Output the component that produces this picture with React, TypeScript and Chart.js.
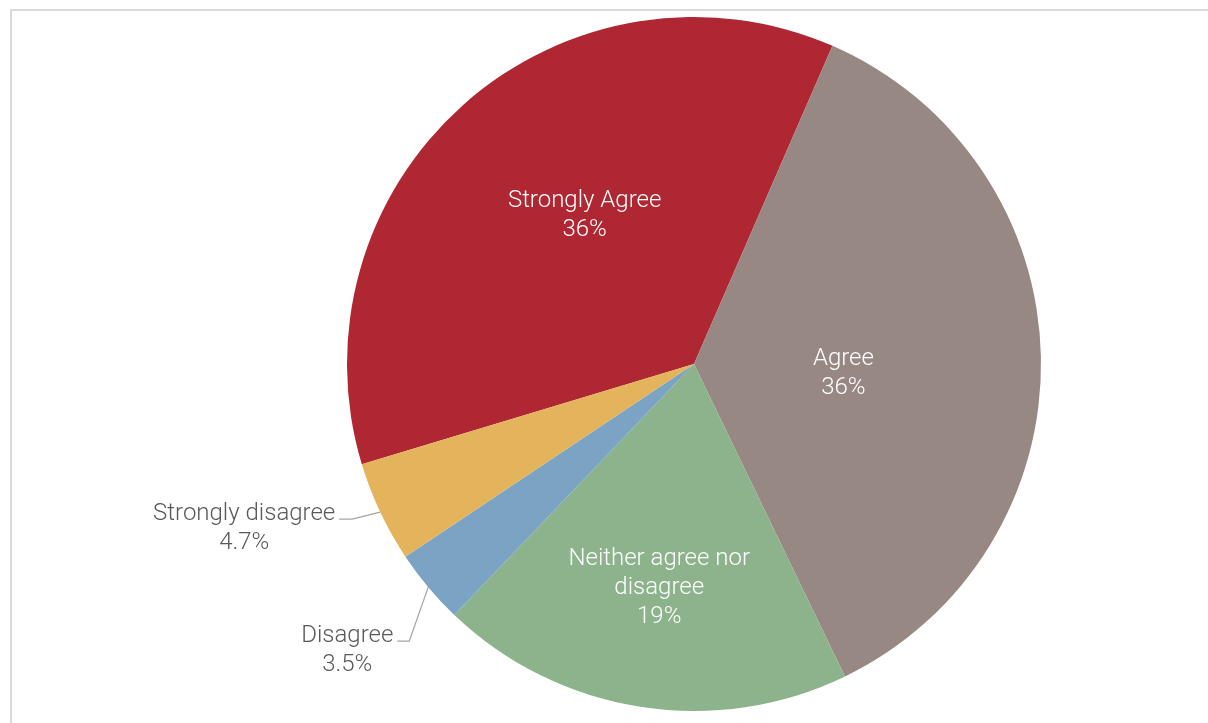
import React, { useEffect, useRef } from "react";
import { Chart, registerables } from "chart.js";

Chart.register(...registerables);

const categories = ["Strongly Agree", "Agree", "Neither agree nor disagree", "Disagree", "Strongly disagree"];
const values = [36.2, 36.3, 19.3, 3.5, 4.7];
const colors = ["#AF2732", "#978883", "#8CB38B", "#7BA3C4", "#E4B45C"];

// label placement styles (inside: polar offset from slice middle; outside: offsets from arc edge point)
const labelStyles: any[] = [
  { inside: true, dAngle: 5.7, rFrac: 0.537 },
  { inside: true, dAngle: 3.9, rFrac: 0.431 },
  { inside: true, dAngle: 0, rFrac: 0.645 },
  { inside: false, textDx: -81, textDy: 46, elbowDx: -19, elbowDy: 54, startDx: -31 },
  { inside: false, textDx: -136, textDy: -1, elbowDx: -28, elbowDy: 7, startDx: -41 },
];

const FONT = '300 24px Roboto, "Open Sans", sans-serif';
const LINE_H = 29;
const TEXT_SHIFT = 2.5;

function wrap(ctx: CanvasRenderingContext2D, text: string, maxW: number): string[] {
  const words = text.split(" ");
  const lines: string[] = [];
  let cur = "";
  for (const w of words) {
    const t = cur ? cur + " " + w : w;
    if (ctx.measureText(t).width > maxW && cur) {
      lines.push(cur);
      cur = w;
    } else cur = t;
  }
  if (cur) lines.push(cur);
  return lines;
}

const labelPlugin = {
  id: "pieLabels",
  afterDatasetsDraw(chart: any) {
    const ctx: CanvasRenderingContext2D = chart.ctx;
    const meta = chart.getDatasetMeta(0);
    const total = values.reduce((a, b) => a + b, 0);
    ctx.save();
    ctx.font = FONT;
    ctx.textAlign = "center";
    ctx.textBaseline = "middle";
    meta.data.forEach((arc: any, i: number) => {
      const st = labelStyles[i];
      const pct = ((values[i] / total) * 100).toPrecision(2) + "%";
      const mid = (arc.startAngle + arc.endAngle) / 2;
      const R = arc.outerRadius;
      if (st.inside) {
        const a = mid + (st.dAngle * Math.PI) / 180;
        const cx = arc.x + Math.cos(a) * R * st.rFrac;
        const cy = arc.y + Math.sin(a) * R * st.rFrac + TEXT_SHIFT;
        const lines = [...wrap(ctx, categories[i], 220), pct];
        const y0 = cy - ((lines.length - 1) * LINE_H) / 2;
        ctx.fillStyle = "#FFFFFF";
        lines.forEach((l, k) => ctx.fillText(l, cx, y0 + k * LINE_H));
      } else {
        const px = arc.x + Math.cos(mid) * R;
        const py = arc.y + Math.sin(mid) * R;
        ctx.strokeStyle = "#A6A6A6";
        ctx.lineWidth = 1.3;
        ctx.beginPath();
        ctx.moveTo(px + st.startDx, py + st.elbowDy);
        ctx.lineTo(px + st.elbowDx, py + st.elbowDy);
        ctx.lineTo(px, py);
        ctx.stroke();
        ctx.fillStyle = "#595959";
        const cx = px + st.textDx;
        const cy = py + st.textDy + TEXT_SHIFT;
        ctx.fillText(categories[i], cx, cy);
        ctx.fillText(pct, cx, cy + LINE_H);
      }
    });
    ctx.restore();
  },
};

export default function App() {
  const ref = useRef<HTMLCanvasElement>(null);
  useEffect(() => {
    if (!ref.current) return;
    const chart = new Chart(ref.current, {
      type: "pie",
      data: {
        labels: categories,
        datasets: [
          {
            data: values,
            backgroundColor: colors,
            borderWidth: 0,
          },
        ],
      },
      options: {
        animation: false,
        responsive: false,
        rotation: -106.8,
        layout: { padding: { left: 347, right: 167, top: 17, bottom: 12 } },
        plugins: {
          legend: { display: false },
          tooltip: { enabled: false },
        },
      },
      plugins: [labelPlugin],
    });
    return () => chart.destroy();
  }, []);
  return (
    <div style={{ position: "absolute", left: 0, top: 0, width: 1208, height: 723, overflow: "hidden", background: "#fff" }}>
      <div
        style={{
          position: "absolute",
          left: 10,
          top: 9,
          width: 1198,
          height: 714,
          boxSizing: "border-box",
          borderTop: "2px solid #D9D9D9",
          borderLeft: "2px solid #D9D9D9",
        }}
      />
      <canvas ref={ref} width={1208} height={723} style={{ position: "absolute", left: 0, top: 0, display: "block" }} />
    </div>
  );
}
